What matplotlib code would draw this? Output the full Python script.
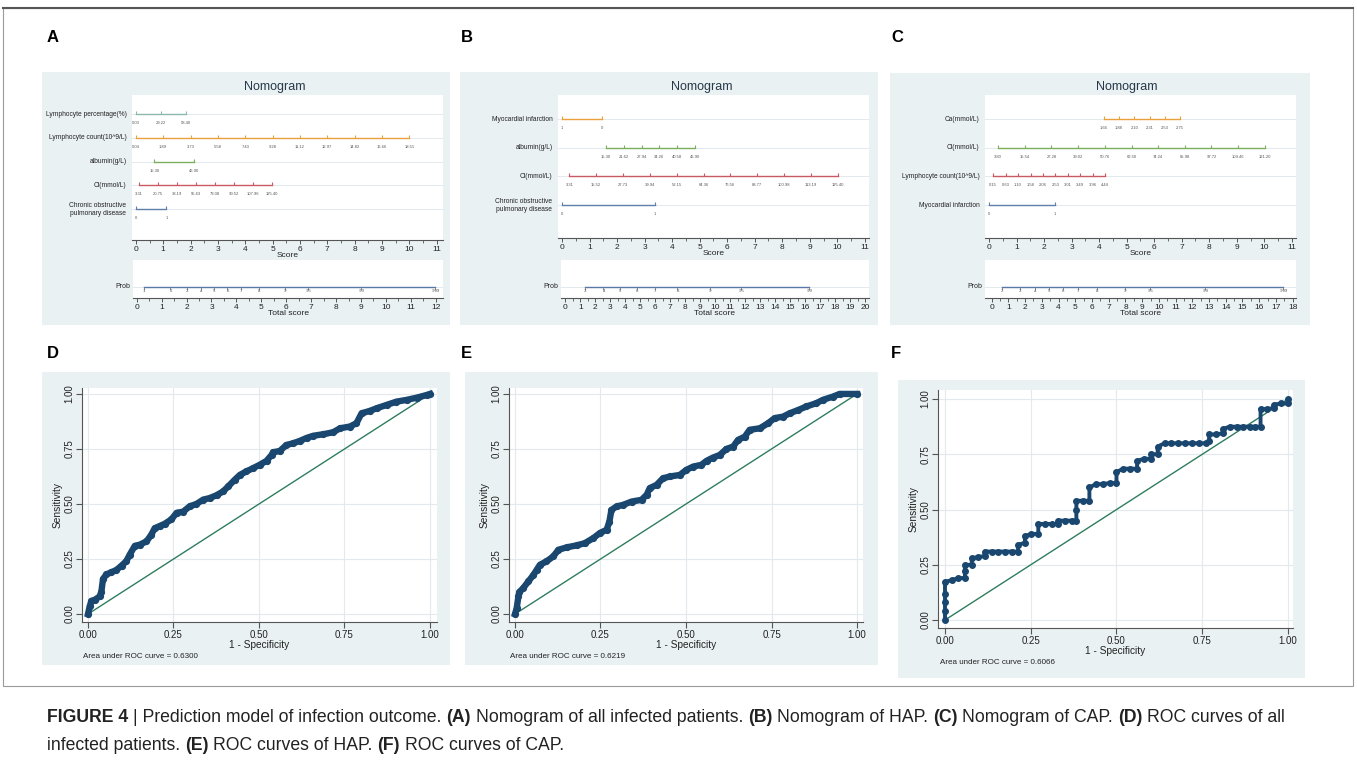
#
# Figure 4: nomograms (A-C) and ROC curves (D-F)
#
import matplotlib
matplotlib.use('Agg')
import matplotlib.pyplot as plt
from matplotlib.patches import Rectangle
from matplotlib import font_manager

W, H = 1357, 767
plt.rcParams['font.family'] = ['Liberation Sans', 'DejaVu Sans']

# ---------------- nomogram data ----------------
# A: all infected patients
a_names = ['Lymphocyte percentage(%)', 'Lymphocyte count(10^9/L)', 'albumin(g/L)',
           'Cl(mmol/L)', 'Chronic obstructive\npulmonary disease']
a_pos = [[0.0, 0.92, 1.84],
         [0, 1, 2, 3, 4, 5, 6, 7, 8, 9, 10],
         [0.68, 2.12],
         [0.12, 0.81, 1.50, 2.20, 2.89, 3.58, 4.27, 4.97],
         [0.0, 1.12]]
a_labels = [['0.03', '29.22', '58.40'],
            ['0.04', '1.89', '3.73', '5.58', '7.43', '9.28', '11.12', '12.97', '14.82', '16.66', '18.51'],
            ['15.30', '46.90'],
            ['3.31', '20.75', '38.19', '55.63', '73.08', '90.52', '107.96', '125.40'],
            ['0', '1']]
a_prob_pos = [0.29, 1.34, 2.02, 2.58, 3.09, 3.64, 4.18, 4.89, 5.95, 6.88, 9.0, 11.97]
a_prob_lab = ['.1', '.2', '.3', '.4', '.5', '.6', '.7', '.8', '.9', '.95', '.99', '.999']

# B: HAP
b_names = ['Myocardial infarction', 'albumin(g/L)', 'Cl(mmol/L)',
           'Chronic obstructive\npulmonary disease']
b_pos = [[0.0, 1.45],
         [1.59, 2.24, 2.89, 3.53, 4.18, 4.83],
         [0.27, 1.24, 2.22, 3.19, 4.17, 5.14, 6.11, 7.09, 8.06, 9.04, 10.01],
         [0.0, 3.39]]
b_labels = [['1', '0'],
            ['15.30', '21.62', '27.94', '34.26', '40.58', '46.90'],
            ['3.31', '15.52', '27.73', '39.94', '52.15', '64.36', '76.56', '88.77', '100.98', '113.19', '125.40'],
            ['0', '1']]
b_prob_pos = [1.31, 2.54, 3.65, 4.76, 5.98, 7.47, 9.66, 11.72, 16.26]
b_prob_lab = ['.3', '.4', '.5', '.6', '.7', '.8', '.9', '.95', '.99']

# C: CAP
c_names = ['Ca(mmol/L)', 'Cl(mmol/L)', 'Lymphocyte count(10^9/L)', 'Myocardial infarction']
c_pos = [[4.17, 4.72, 5.28, 5.83, 6.39, 6.94],
         [0.33, 1.30, 2.27, 3.24, 4.21, 5.18, 6.14, 7.11, 8.08, 9.05, 10.02],
         [0.15, 0.60, 1.05, 1.51, 1.96, 2.41, 2.86, 3.31, 3.77, 4.22],
         [0.0, 2.40]]
c_labels = [['1.66', '1.88', '2.10', '2.31', '2.53', '2.75'],
            ['3.80', '15.54', '27.28', '39.02', '50.76', '62.50', '74.24', '85.98', '97.72', '109.46', '121.20'],
            ['0.15', '0.63', '1.10', '1.58', '2.06', '2.53', '3.01', '3.49', '3.96', '4.44'],
            ['0', '1']]
c_prob_pos = [0.60, 1.69, 2.59, 3.43, 4.25, 5.14, 6.28, 7.97, 9.47, 12.76, 17.44]
c_prob_lab = ['.2', '.3', '.4', '.5', '.6', '.7', '.8', '.9', '.95', '.99', '.999']

# ---------------- ROC data ----------------
d_fpr = [0, 0.005, 0.01, 0.02, 0.034, 0.039, 0.044, 0.054, 0.068, 0.083, 0.098, 0.112, 0.122,
         0.137, 0.151, 0.171, 0.185, 0.195, 0.21, 0.224, 0.244, 0.259, 0.278, 0.298, 0.317,
         0.337, 0.356, 0.376, 0.395, 0.41, 0.429, 0.444, 0.463, 0.483, 0.502, 0.522, 0.537,
         0.541, 0.561, 0.58, 0.60, 0.62, 0.639, 0.659, 0.688, 0.717, 0.737, 0.766, 0.785,
         0.80, 0.824, 0.844, 0.873, 0.902, 0.932, 0.961, 0.99, 1.0]
d_tpr = [0, 0.035, 0.06, 0.065, 0.08, 0.10, 0.16, 0.18, 0.19, 0.20, 0.22, 0.24, 0.27,
         0.31, 0.315, 0.33, 0.36, 0.39, 0.40, 0.41, 0.43, 0.46, 0.465, 0.49, 0.50,
         0.52, 0.527, 0.54, 0.557, 0.58, 0.61, 0.632, 0.648, 0.663, 0.678, 0.696, 0.723,
         0.735, 0.741, 0.768, 0.776, 0.787, 0.80, 0.81, 0.817, 0.826, 0.844, 0.852, 0.867,
         0.912, 0.923, 0.935, 0.95, 0.965, 0.973, 0.983, 0.995, 1.0]

e_fpr = [0, 0.005, 0.01, 0.013, 0.024, 0.039, 0.054, 0.063, 0.073, 0.092, 0.112, 0.127, 0.151,
         0.18, 0.204, 0.229, 0.248, 0.268, 0.276, 0.282, 0.297, 0.316, 0.341, 0.37, 0.385,
         0.394, 0.414, 0.433, 0.453, 0.482, 0.501, 0.521, 0.545, 0.56, 0.579, 0.599, 0.618,
         0.638, 0.652, 0.672, 0.686, 0.716, 0.74, 0.759, 0.784, 0.803, 0.828, 0.852, 0.881,
         0.90, 0.93, 0.949, 1.0]
e_tpr = [0, 0.027, 0.08, 0.10, 0.118, 0.148, 0.178, 0.20, 0.224, 0.239, 0.262, 0.292, 0.303,
         0.312, 0.322, 0.345, 0.368, 0.383, 0.42, 0.473, 0.489, 0.496, 0.511, 0.519, 0.542,
         0.572, 0.587, 0.617, 0.625, 0.632, 0.655, 0.67, 0.678, 0.696, 0.711, 0.723, 0.75,
         0.761, 0.791, 0.806, 0.837, 0.844, 0.867, 0.89, 0.897, 0.912, 0.927, 0.943, 0.958,
         0.973, 0.988, 1.0, 1.0]

f_fpr = [0, 0, 0, 0, 0, 0.019, 0.039, 0.058, 0.058, 0.058, 0.078, 0.078, 0.097, 0.117, 0.117,
         0.136, 0.155, 0.175, 0.194, 0.213, 0.213, 0.233, 0.233, 0.252, 0.272, 0.272, 0.291,
         0.311, 0.33, 0.33, 0.35, 0.369, 0.383, 0.383, 0.383, 0.402, 0.421, 0.421, 0.44, 0.46,
         0.48, 0.5, 0.5, 0.52, 0.54, 0.56, 0.56, 0.58, 0.6, 0.6, 0.62, 0.62, 0.64, 0.66, 0.68,
         0.70, 0.72, 0.74, 0.76, 0.77, 0.77, 0.79, 0.81, 0.81, 0.83, 0.85, 0.87, 0.89, 0.905,
         0.92, 0.92, 0.94, 0.96, 0.96, 0.98, 1.0, 1.0]
f_tpr = [0, 0.04, 0.08, 0.12, 0.173, 0.18, 0.19, 0.19, 0.22, 0.25, 0.25, 0.28, 0.285, 0.29, 0.31,
         0.31, 0.31, 0.31, 0.31, 0.31, 0.34, 0.35, 0.38, 0.39, 0.39, 0.435, 0.435,
         0.435, 0.435, 0.45, 0.45, 0.45, 0.45, 0.50, 0.54, 0.54, 0.54, 0.60, 0.615, 0.615,
         0.62, 0.62, 0.67, 0.685, 0.685, 0.685, 0.72, 0.73, 0.73, 0.75, 0.75, 0.785, 0.80, 0.80, 0.80,
         0.80, 0.80, 0.80, 0.80, 0.81, 0.84, 0.84, 0.845, 0.865, 0.875, 0.875, 0.875, 0.875, 0.875,
         0.875, 0.955, 0.955, 0.96, 0.975, 0.98, 0.98, 1.0]

roc_ticks = [0, 0.25, 0.5, 0.75, 1.0]
roc_ticklabels = ['0.00', '0.25', '0.50', '0.75', '1.00']

bg_col = '#EAF1F3'
grid_col = '#E3EAED'
row_cols = ['#8DB8AE', '#E9A23B', '#7DAE5C', '#C95A63', '#5E7FAA']
navy = '#1A476F'
ref_green = '#2E7D5E'
axis_col = '#555555'

fig = plt.figure(figsize=(W / 100, H / 100), dpi=100)


def px_rect(x0, y0, x1, y1):
    return [x0 / W, 1 - y1 / H, (x1 - x0) / W, (y1 - y0) / H]


def background(x0, y0, x1, y1):
    fig.add_artist(Rectangle((x0 / W, 1 - y1 / H), (x1 - x0) / W, (y1 - y0) / H,
                             transform=fig.transFigure, facecolor=bg_col, edgecolor='none', zorder=0))


def style_score_axis(ax, xmax, label):
    for s in ['top', 'right', 'left']:
        ax.spines[s].set_visible(False)
    ax.spines['bottom'].set_color(axis_col)
    ax.spines['bottom'].set_linewidth(0.8)
    ax.set_yticks([])
    ax.set_xticks(range(0, xmax + 1))
    ax.set_xticks([i + 0.5 for i in range(0, xmax)], minor=True)
    ax.tick_params(axis='x', which='major', length=3, width=0.7, color=axis_col,
                   labelsize=6, pad=1, labelcolor='#222222')
    ax.tick_params(axis='x', which='minor', length=2, width=0.6, color=axis_col)
    ax.set_xlabel(label, fontsize=6, labelpad=-0.5, color='#222222')


def nomogram(bg, box, pbox, xlim, ylim, pxlim, names, pos, labs, score_max, total_max,
             prob_x, prob_lab, title_x):
    background(*bg)
    ax = fig.add_axes(px_rect(*box))
    ax.set_facecolor('white')
    ax.set_xlim(xlim)
    ax.set_ylim(ylim)
    n = len(names)
    cols = row_cols[-n:]
    for i in range(n):
        yv = n - i
        ax.axhline(yv, color=grid_col, lw=0.7, zorder=1)
        xs = pos[i]
        ax.plot([xs[0], xs[-1]], [yv, yv], color=cols[i], lw=1.0, zorder=2)
        ax.plot(xs, [yv] * len(xs), ls='none', marker=2, ms=2.5, mew=0.8, color=cols[i], zorder=2)
        for xv, lb in zip(xs, labs[i]):
            ax.annotate(lb, (xv, yv), xytext=(0, -6.5), textcoords='offset points',
                        ha='center', va='center', fontsize=3, color='#555555')
        ax.text(-0.018, yv, names[i], transform=ax.get_yaxis_transform(), ha='right',
                va='center', fontsize=4.8, color='#222222', multialignment='center')
    style_score_axis(ax, score_max, 'Score')
    fig.text(title_x / W, 1 - 87 / H, 'Nomogram', fontsize=9, color='#26384A',
             ha='center', va='center')

    pax = fig.add_axes(px_rect(*pbox))
    pax.set_facecolor('white')
    pax.set_xlim(pxlim)
    pax.set_ylim(0, 1)
    yl = 0.29
    pax.axhline(yl, color=grid_col, lw=0.7, zorder=1)
    pax.plot([prob_x[0], prob_x[-1]], [yl, yl], color='#5878A8', lw=1.0, zorder=2)
    pax.plot(prob_x, [yl] * len(prob_x), ls='none', marker=3, ms=2, mew=0.6, color='#777777', zorder=2)
    for xv, lb in zip(prob_x, prob_lab):
        pax.annotate(lb, (xv, yl), xytext=(0.5, -3), textcoords='offset points',
                     ha='center', va='center', fontsize=3, color='#555555')
    pax.text(-0.01, yl, 'Prob', transform=pax.get_yaxis_transform(), ha='right',
             va='center', fontsize=5, color='#222222')
    style_score_axis(pax, total_max, 'Total score')


def roc(bg, box, xlim, ylim, fpr, tpr, auc, auc_xy, steps=False):
    background(*bg)
    ax = fig.add_axes(px_rect(*box))
    ax.set_facecolor('white')
    ax.set_xlim(xlim)
    ax.set_ylim(ylim)
    ax.set_xticks(roc_ticks)
    ax.set_xticklabels(roc_ticklabels)
    ax.set_yticks(roc_ticks)
    ax.set_yticklabels(roc_ticklabels)
    ax.grid(True, color=grid_col, lw=0.8)
    ax.set_axisbelow(True)
    for s in ['top', 'right']:
        ax.spines[s].set_visible(False)
    for s in ['left', 'bottom']:
        ax.spines[s].set_color(axis_col)
        ax.spines[s].set_linewidth(0.8)
    ax.tick_params(length=4, width=0.8, color=axis_col, labelsize=7, pad=1.5, labelcolor='#222222')
    ax.tick_params(axis='y', labelrotation=90)
    for t in ax.get_yticklabels():
        t.set_va('center')
    ax.plot([0, 1], [0, 1], color=ref_green, lw=1.0, zorder=2)
    if steps:
        ax.plot(fpr, tpr, color=navy, lw=2.8, marker='o', ms=4.0, zorder=3)
    else:
        ax.plot(fpr, tpr, color=navy, lw=4.6, marker='o', ms=4.2, zorder=3)
    ax.set_xlabel('1 - Specificity', fontsize=7.3, labelpad=0, color='#222222')
    ax.set_ylabel('Sensitivity', fontsize=7.3, labelpad=1, color='#222222')
    fig.text(auc_xy[0] / W, 1 - auc_xy[1] / H, 'Area under ROC curve = ' + auc,
             fontsize=5.8, color='#222222', ha='left', va='center')


# outer frame
fig.add_artist(Rectangle((3 / W, 1 - 686 / H), 1350 / W, 678 / H, transform=fig.transFigure,
                         facecolor='none', edgecolor='#9A9A9A', lw=0.8, zorder=0))
fig.add_artist(plt.Line2D([3 / W, 1353 / W], [1 - 8 / H, 1 - 8 / H], transform=fig.transFigure,
                          color='#555555', lw=1.5))

nomogram((42, 72, 450, 325), (132, 95, 443, 240), (133, 260, 443, 298),
         (-0.14, 11.23), (-0.3, 5.8), (-0.15, 12.29), a_names, a_pos, a_labels, 11, 12,
         a_prob_pos, a_prob_lab, 275)
nomogram((460, 72, 878, 325), (558, 95, 869, 238), (561, 260, 869, 298),
         (-0.145, 11.15), (-0.15, 4.84), (-0.29, 20.26), b_names, b_pos, b_labels, 11, 20,
         b_prob_pos, b_prob_lab, 702)
nomogram((890, 73, 1310, 325), (985, 95, 1296, 238), (985, 260, 1296, 298),
         (-0.145, 11.15), (-0.15, 4.84), (-0.40, 18.2), c_names, c_pos, c_labels, 11, 18,
         c_prob_pos, c_prob_lab, 1127)

roc((42, 372, 450, 665), (82, 388, 437, 622), (-0.0175, 1.0205), (-0.036, 1.027),
    d_fpr, d_tpr, '0.6300', (83, 657))
roc((465, 372, 878, 665), (509, 388, 863, 622), (-0.0175, 1.0175), (-0.036, 1.027),
    e_fpr, e_tpr, '0.6219', (510, 657))
roc((898, 380, 1305, 678), (938, 390, 1293, 628), (-0.0204, 1.0146), (-0.036, 1.041),
    f_fpr, f_tpr, '0.6066', (940, 662), steps=True)

# panel letters
for letter, x, y in [('A', 47, 37), ('B', 461, 37), ('C', 891, 37),
                     ('D', 47, 354), ('E', 461, 354), ('F', 891, 354)]:
    fig.text(x / W, 1 - y / H, letter, fontsize=12, fontweight='bold', ha='left', va='center')

# caption with bold pieces
installed = {f.name for f in font_manager.fontManager.ttflist}
if 'Liberation Sans Narrow' in installed:
    cap_family = ['Liberation Sans Narrow', 'DejaVu Sans']
else:
    cap_family = ['Liberation Sans', 'DejaVu Sans']

cap_line1 = [('FIGURE 4', True), ('| Prediction model of infection outcome.', False), ('(A)', True),
             ('Nomogram of all infected patients.', False), ('(B)', True), ('Nomogram of HAP.', False),
             ('(C)', True), ('Nomogram of CAP.', False), ('(D)', True), ('ROC curves of all', False)]
cap_line2 = [('infected patients.', False), ('(E)', True), ('ROC curves of HAP.', False),
             ('(F)', True), ('ROC curves of CAP.', False)]

fig.canvas.draw()
renderer = fig.canvas.get_renderer()


def text_width(s, bold, size):
    t = fig.text(0, 0, s, fontsize=size, family=cap_family,
                 fontweight='bold' if bold else 'normal')
    w = t.get_window_extent(renderer=renderer).width
    t.remove()
    return w


def line_width(parts, size):
    sp = text_width('x x', False, size) - text_width('xx', False, size)
    return sum(text_width(s, b, size) for s, b in parts) + sp * (len(parts) - 1)


# first caption line runs from x=47 to about x=1293
cap_size = 10 * 1246 / line_width(cap_line1, 10)
space_w = text_width('x x', False, cap_size) - text_width('xx', False, cap_size)

for parts, ypix in [(cap_line1, 722), (cap_line2, 750)]:
    x = 47
    for s, bold in parts:
        fig.text(x / W, 1 - ypix / H, s, fontsize=cap_size, family=cap_family,
                 fontweight='bold' if bold else 'normal', color='#222222', ha='left', va='baseline')
        x += text_width(s, bold, cap_size) + space_w

fig.savefig('out.png', dpi=100, facecolor='white')
